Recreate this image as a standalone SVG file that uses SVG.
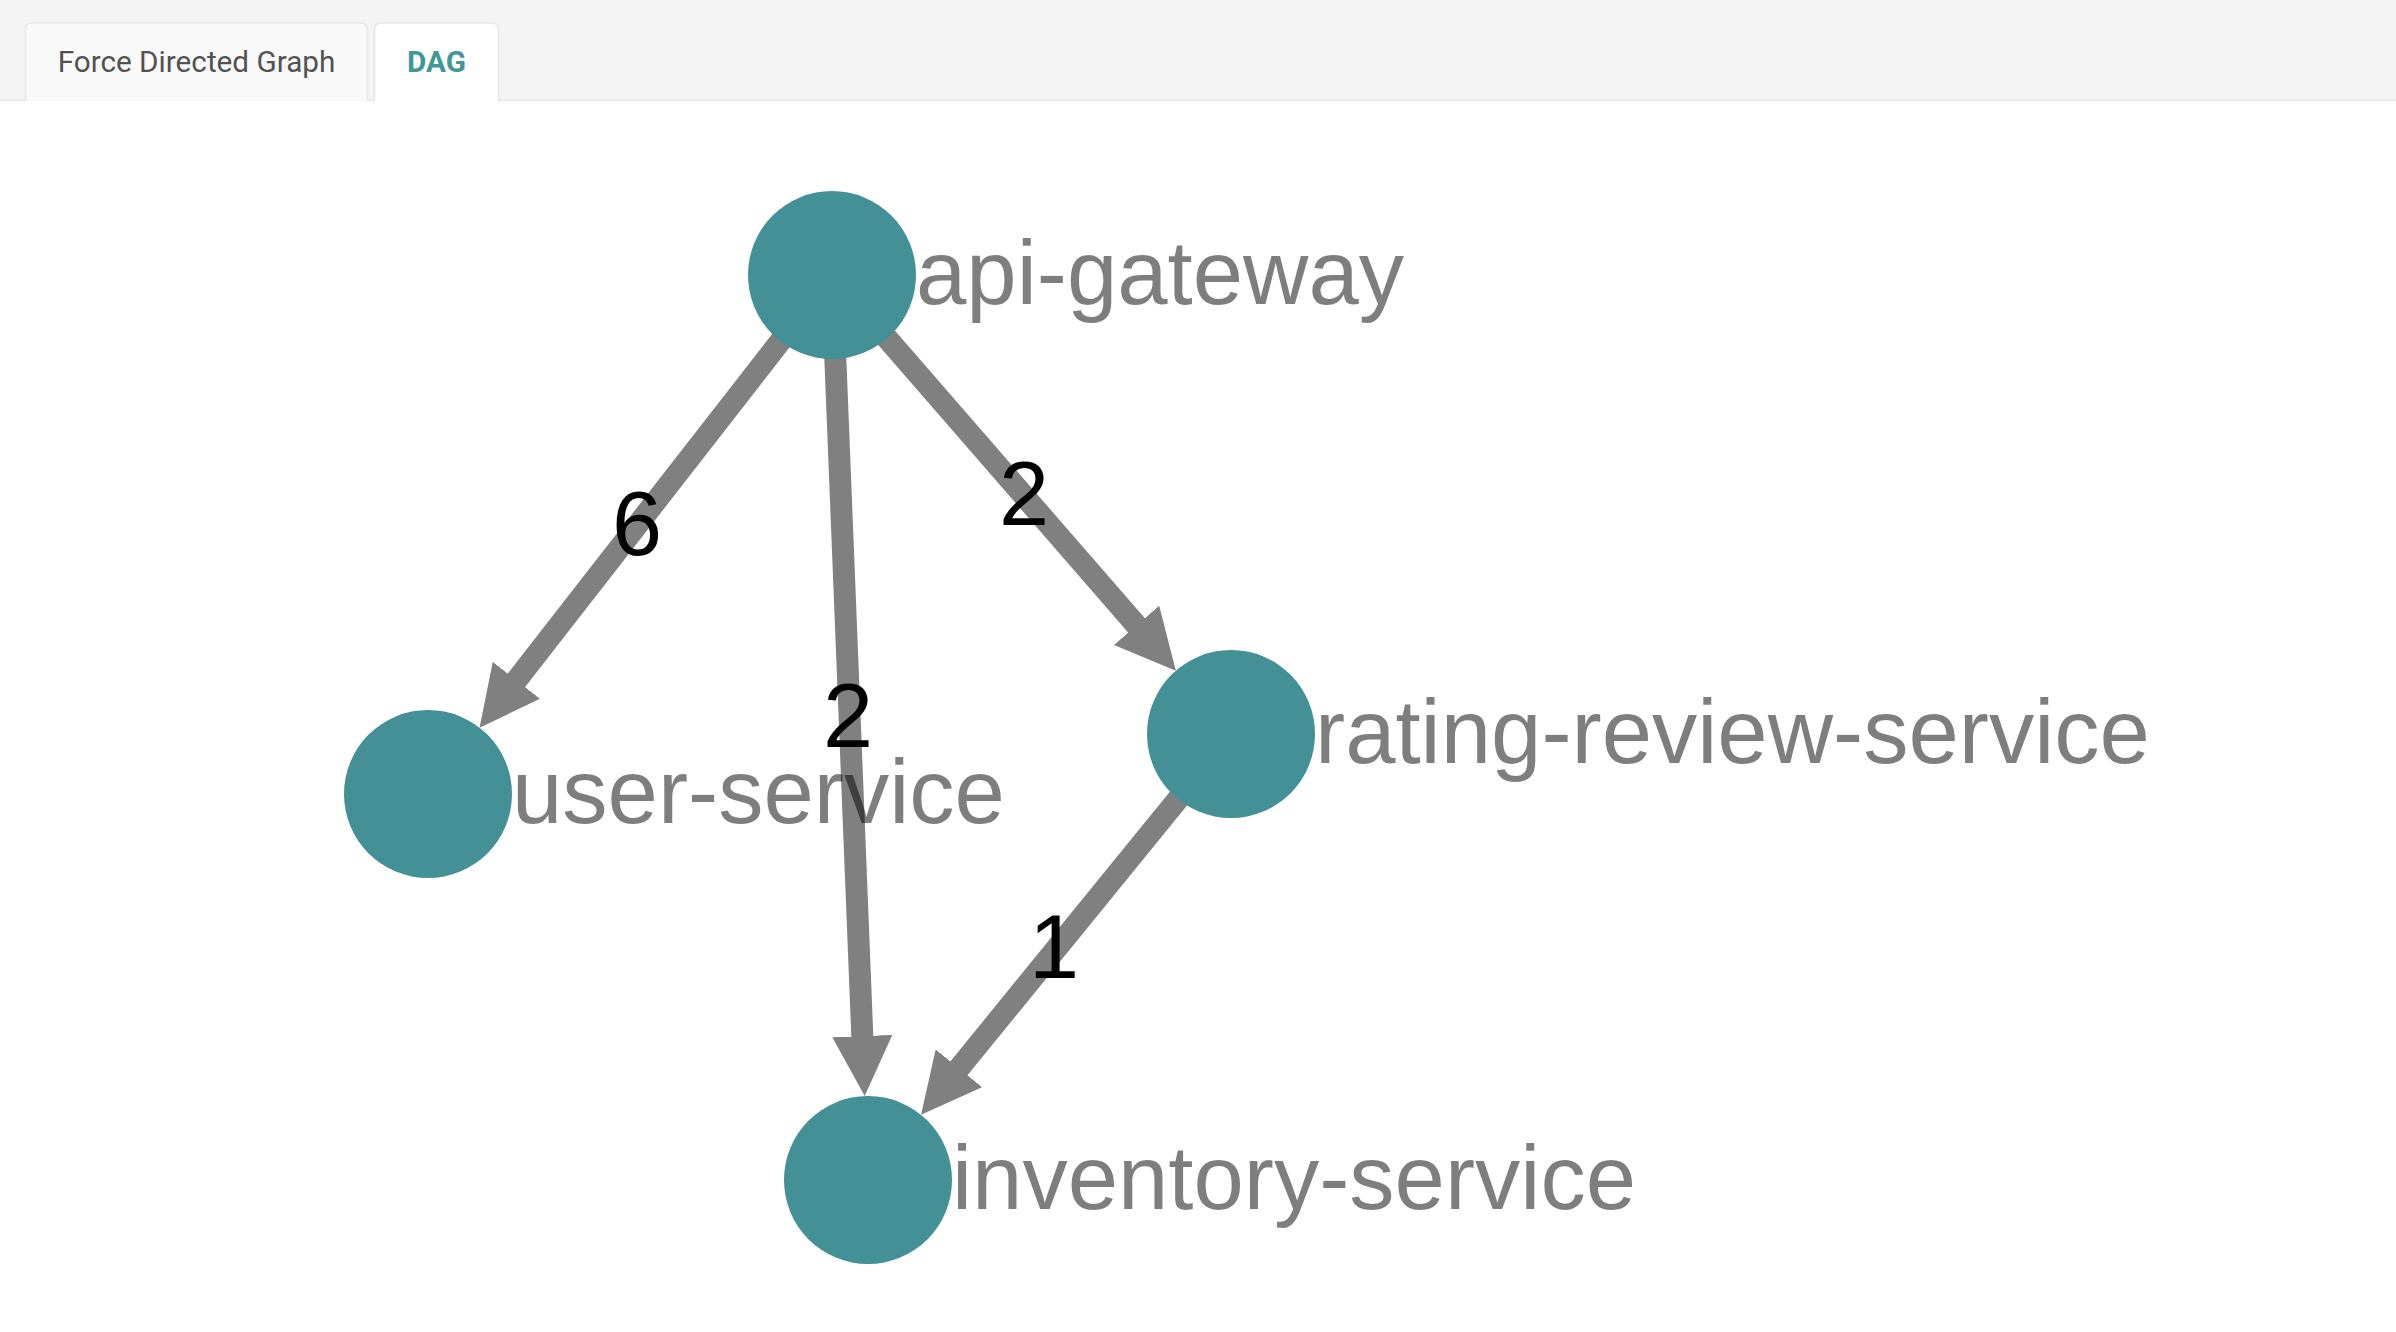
<svg xmlns="http://www.w3.org/2000/svg" width="2396" height="1332" viewBox="0 0 2396 1332">
  <style>
    .tabtext { font-family: Roboto, "Liberation Sans", Arial, sans-serif; font-size: 29.7px; text-anchor: middle; }
    .edge { stroke: #808080; stroke-width: 22; fill: none; marker-end: url(#arrow); }
    .elabel { font-family: "Liberation Sans", Arial, Helvetica, sans-serif; font-size: 90px; fill: #000; text-anchor: middle; }
    .node circle { fill: #449097; }
    .node text { font-family: "Liberation Sans", Arial, Helvetica, sans-serif; font-size: 90.5px; fill: #000; opacity: 0.5; }
  </style>
  <defs>
    <marker id="arrow" markerUnits="userSpaceOnUse" viewBox="0 -30 60 60" refX="30" refY="0" markerWidth="60" markerHeight="60" orient="auto">
      <path d="M0,-30 L60,0 L0,30 Z" fill="#808080"/>
    </marker>
  </defs>
  <rect x="0" y="0" width="2396" height="1332" fill="#ffffff"/>
  <!-- tab bar -->
  <g id="tabbar">
    <rect x="0" y="0" width="2396" height="100" fill="#f4f4f4"/>
    <rect x="0" y="99.5" width="2396" height="1.5" fill="#e6e6e6"/>
    <g id="tab-force">
      <path d="M25.5,101 V29.5 Q25.5,23 32,23 H361 Q367.5,23 367.5,29.5 V101" fill="#f9f9f9" stroke="#e6e6e6" stroke-width="1.5"/>
      <text class="tabtext" x="196.5" y="72.3" fill="#525252">Force Directed Graph</text>
    </g>
    <g id="tab-dag">
      <path d="M374.5,102 V29.5 Q374.5,23 381,23 H492 Q498.5,23 498.5,29.5 V102" fill="#ffffff" stroke="#e6e6e6" stroke-width="1.5"/>
      <rect x="375.5" y="98" width="122.2" height="6" fill="#ffffff"/>
      <text class="tabtext" x="436.5" y="71.7" fill="#3f9798" font-weight="bold">DAG</text>
    </g>
  </g>
  <!-- connectors -->
  <g id="connectors">
    <line class="edge" x1="832" y1="275" x2="498.0" y2="704.0"/>
    <line class="edge" x1="832" y1="275" x2="863.5" y2="1066.1"/>
    <line class="edge" x1="832" y1="275" x2="1156.2" y2="648.0"/>
    <line class="edge" x1="1231" y1="734" x2="940.0" y2="1091.6"/>
    <text class="elabel" x="637" y="555">6</text>
    <text class="elabel" x="848" y="747">2</text>
    <text class="elabel" x="1024" y="525">2</text>
    <text class="elabel" x="1054" y="978">1</text>
  </g>
  <!-- nodes -->
  <g id="node-api-gateway" class="node">
    <circle cx="832" cy="275" r="84"/>
    <text x="916" y="304">api-gateway</text>
  </g>
  <g id="node-user-service" class="node">
    <circle cx="428" cy="794" r="84"/>
    <text x="512" y="823">user-service</text>
  </g>
  <g id="node-rating-review-service" class="node">
    <circle cx="1231" cy="734" r="84"/>
    <text x="1315" y="763">rating-review-service</text>
  </g>
  <g id="node-inventory-service" class="node">
    <circle cx="868" cy="1180" r="84"/>
    <text x="952" y="1209">inventory-service</text>
  </g>
</svg>
